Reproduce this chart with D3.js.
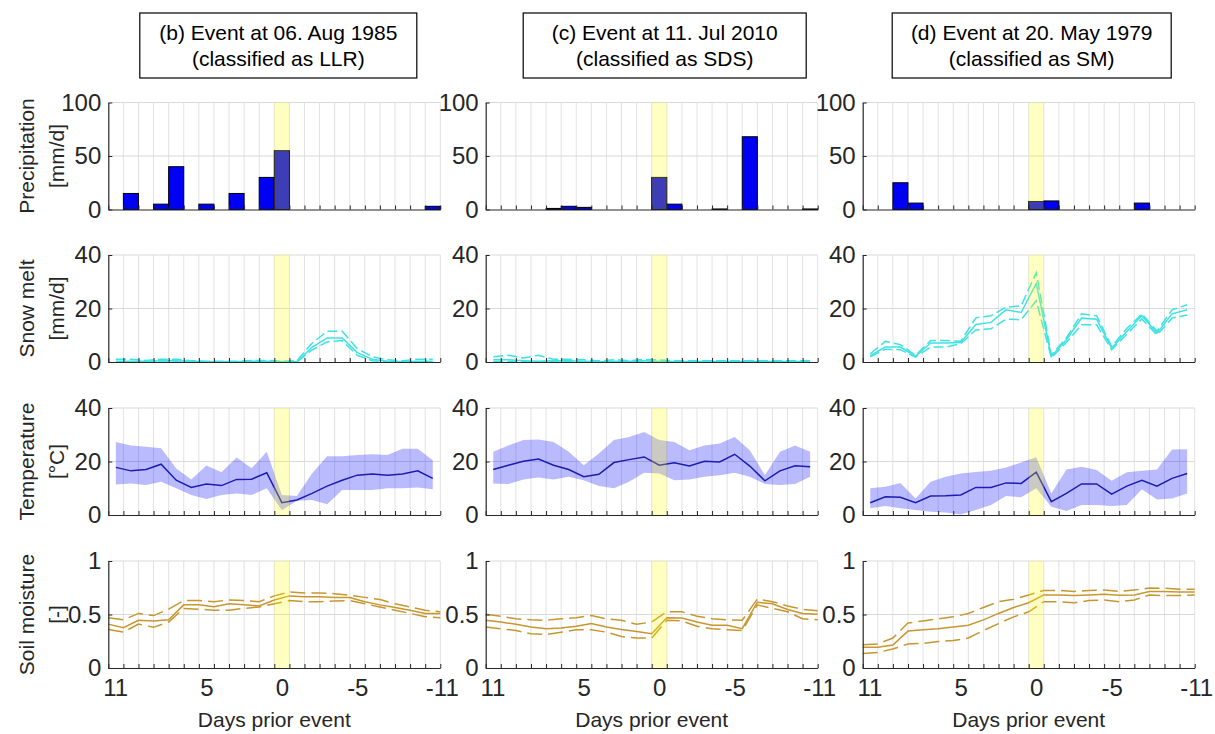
<!DOCTYPE html>
<html>
<head>
<meta charset="utf-8">
<script src="https://cdn.jsdelivr.net/npm/d3@7/dist/d3.min.js"></script>
<style>
  body { margin: 0; background: #fff; }
  svg { display: block; }
  text { font-family: "Liberation Sans", Arial, sans-serif; fill: #262626; }
</style>
</head>
<body>
<svg id="chart" width="1215" height="734"></svg>
<script>
// day centres (daily values) and day edges (soil moisture is stored at the edges)
const days = [11, 10, 9, 8, 7, 6, 5, 4, 3, 2, 1, 0, -1, -2, -3, -4, -5, -6, -7, -8, -9, -10]
const edges = [11.5, 10.5, 9.5, 8.5, 7.5, 6.5, 5.5, 4.5, 3.5, 2.5, 1.5, 0.5, -0.5, -1.5, -2.5, -3.5, -4.5, -5.5, -6.5, -7.5, -8.5, -9.5, -10.5]

const xTickPos = [11.05, 5, 0, -5, -10.6]
const xTickLabels = ['11', '5', '0', '-5', '-11']

const titleLine1 = ['(b) Event at 06. Aug 1985', '(c) Event at 11. Jul 2010', '(d) Event at 20. May 1979']
const titleLine2 = ['(classified as LLR)', '(classified as SDS)', '(classified as SM)']

// precipitation [mm/d]
const precip = [
  [0, 15, 0, 5, 40, 0, 5, 0, 15, 0, 30, 55, 0, 0, 0, 0, 0, 0, 0, 0, 0, 3],
  [0, 0, 0, 0, 1, 3, 2, 0, 0, 0, 0, 30, 5, 0, 0, 0.5, 0, 68, 0, 0, 0, 0.5],
  [0, 0, 25, 6, 0, 0, 0, 0, 0, 0, 0, 7.5, 8, 0, 0, 0, 0, 0, 6, 0, 0, 0]
]

// snow melt [mm/d]: median, upper and lower
const snowMid = [
  [0.3, 0.3, 0.3, 0.5, 0.5, 0.3, 0.1, 0.1, 0.1, 0.3, 0.3, 0.1, 0.1, 5.5, 9, 9, 3.5, 1, 0.3, 0.1, 0.3, 0.3],
  [0.8, 0.8, 0.5, 0.3, 0.5, 0.5, 0.3, 0.1, 0.3, 0.3, 0.5, 0.3, 0.2, 0.2, 0.2, 0.2, 0.2, 0.2, 0.2, 0.2, 0.2, 0.2],
  [2.4, 5.6, 5.6, 2.1, 7.1, 7.1, 7.3, 14, 14.8, 19.5, 18.5, 29.4, 2.1, 8.3, 16.4, 16, 5.2, 11.4, 17.3, 10.8, 18, 19.5]
]
const snowHigh = [
  [1, 1, 0.6, 1, 1, 0.5, 0.3, 0.3, 0.3, 0.6, 0.6, 0.3, 0.5, 7, 11.5, 11.5, 5, 2, 0.8, 0.5, 1, 1],
  [2, 2.5, 1.5, 2.5, 1, 1, 0.8, 0.5, 0.8, 0.5, 1, 0.8, 0.5, 0.5, 0.5, 0.5, 0.5, 0.5, 0.5, 0.5, 0.5, 0.5],
  [3.1, 7.7, 6.5, 2.5, 8, 8, 7.8, 16.5, 17.3, 20.5, 21, 33.4, 2.6, 9, 18, 17.3, 5.8, 12.5, 18, 11.5, 19.5, 21.4]
]
const snowLow = [
  [0, 0, 0, 0, 0, 0, 0, 0, 0, 0, 0, 0, 0, 4.5, 7.5, 8, 2.5, 0.5, 0, 0, 0, 0],
  [0.2, 0.2, 0.1, 0.1, 0.2, 0.2, 0.1, 0, 0.1, 0.1, 0.2, 0.1, 0, 0, 0, 0, 0, 0, 0, 0, 0, 0],
  [1.9, 4.8, 4.6, 1.8, 5.6, 5.6, 6.8, 12, 12.4, 16, 15.8, 22.9, 1.6, 7.4, 13.9, 13.9, 4.6, 10.4, 16.1, 10.1, 16.4, 17.6]
]

// temperature [°C]: mean with spread
const tempMid = [
  [17.8, 16.5, 17, 19, 13, 10.3, 11.6, 11, 13.3, 13.4, 15.8, 4.6, 5.6, 8.1, 10.8, 13, 14.9, 15.3, 14.9, 15.3, 16.5, 13.7],
  [17, 18.6, 20.1, 20.9, 18.6, 17, 14.3, 15.2, 19.6, 20.7, 21.7, 18.6, 19.5, 18.3, 20.1, 19.8, 22.7, 18.3, 12.8, 16.5, 18.4, 18],
  [4.6, 6.8, 6.6, 4.6, 7.1, 7.2, 7.5, 10.3, 10.3, 12, 11.8, 16, 5, 8.1, 11.6, 11.6, 7.8, 10.8, 13, 10.8, 13.7, 15.5]
]
const tempHigh = [
  [27.3, 26, 25.5, 25, 17.4, 13.3, 18.5, 16, 21.5, 17.5, 23.6, 7.5, 7.1, 15.5, 22, 22, 22.4, 22.7, 22.4, 24.8, 24.8, 20.5],
  [23.6, 26, 28, 28.2, 27.3, 23.6, 18.6, 23, 28, 29.2, 31, 28, 27.3, 24.2, 26, 26.7, 29.2, 24.2, 14.9, 23.6, 26, 23.6],
  [10, 10.6, 12, 6.2, 12.4, 14.3, 15.5, 16.1, 16.5, 17.8, 19.6, 21.6, 8, 17, 18, 16.8, 12.8, 16, 16.5, 17, 24.5, 24.6]
]
const tempLow = [
  [11.4, 11.8, 11.2, 12.4, 10, 7.5, 6, 7.5, 8, 7.5, 10, 1.8, 5.3, 5.6, 4, 9.3, 9.3, 9.3, 10, 10, 10.3, 9.6],
  [11.8, 11.6, 13.3, 14, 13.3, 14.3, 13, 10.8, 10, 12.4, 15.8, 15.5, 13, 13.3, 14.3, 14.9, 15.8, 14.3, 11.6, 11.2, 11.6, 14.3],
  [2.5, 3.4, 2.5, 1.9, 1.2, 0.9, 0.2, 1.9, 3.7, 7.1, 6.6, 10, 3.1, 1.5, 3.7, 3.7, 3.4, 3.7, 9.6, 5.8, 6.2, 8]
]

// soil moisture [-] at day edges: median, upper and lower
const soilMid = [
  [0.41, 0.377, 0.446, 0.44, 0.45, 0.59, 0.59, 0.573, 0.6, 0.59, 0.58, 0.636, 0.674, 0.667, 0.667, 0.66, 0.658, 0.62, 0.59, 0.566, 0.54, 0.51, 0.51],
  [0.446, 0.43, 0.408, 0.383, 0.367, 0.373, 0.39, 0.415, 0.383, 0.36, 0.342, 0.32, 0.47, 0.468, 0.43, 0.4, 0.4, 0.367, 0.615, 0.6, 0.547, 0.51, 0.503],
  [0.193, 0.193, 0.215, 0.345, 0.357, 0.367, 0.383, 0.4, 0.45, 0.51, 0.566, 0.61, 0.683, 0.683, 0.677, 0.683, 0.69, 0.68, 0.683, 0.715, 0.715, 0.71, 0.71]
]
const soilHigh = [
  [0.47, 0.45, 0.51, 0.49, 0.55, 0.63, 0.63, 0.62, 0.636, 0.63, 0.62, 0.674, 0.71, 0.7, 0.7, 0.695, 0.68, 0.66, 0.64, 0.6, 0.57, 0.54, 0.525],
  [0.503, 0.484, 0.46, 0.45, 0.446, 0.46, 0.47, 0.49, 0.46, 0.446, 0.408, 0.43, 0.525, 0.525, 0.484, 0.46, 0.45, 0.446, 0.645, 0.62, 0.58, 0.547, 0.535],
  [0.218, 0.225, 0.28, 0.42, 0.44, 0.46, 0.478, 0.51, 0.566, 0.62, 0.642, 0.683, 0.725, 0.725, 0.715, 0.725, 0.73, 0.715, 0.73, 0.747, 0.745, 0.737, 0.737]
]
const soilLow = [
  [0.36, 0.335, 0.41, 0.38, 0.43, 0.557, 0.55, 0.54, 0.54, 0.557, 0.57, 0.6, 0.63, 0.62, 0.62, 0.626, 0.63, 0.6, 0.57, 0.54, 0.51, 0.48, 0.47],
  [0.383, 0.367, 0.35, 0.32, 0.313, 0.335, 0.357, 0.357, 0.335, 0.294, 0.28, 0.28, 0.446, 0.44, 0.39, 0.367, 0.357, 0.35, 0.59, 0.557, 0.525, 0.46, 0.45],
  [0.136, 0.146, 0.177, 0.225, 0.23, 0.247, 0.256, 0.28, 0.35, 0.415, 0.478, 0.525, 0.62, 0.62, 0.61, 0.63, 0.636, 0.62, 0.636, 0.683, 0.677, 0.677, 0.683]
]

const panels = [
  { key: 'precip', max: 100, ticks: [0, 50, 100], label: ['Precipitation', '[mm/d]'] },
  { key: 'snow', max: 40, ticks: [0, 20, 40], label: ['Snow melt', '[mm/d]'] },
  { key: 'temp', max: 40, ticks: [0, 20, 40], label: ['Temperature', '[°C]'] },
  { key: 'soil', max: 1, ticks: [0, 0.5, 1], label: ['Soil moisture', '[-]'] }
]

// layout
const colLeft = [108.3, 485.7, 862.7]
const plotW = 332
const rowTop = [102.5, 255, 408, 561]
const plotH = 107
const titleDx = [4, 13, 3]
const titleW = [277, 283, 279]

const svg = d3.select('#chart')

const drawers = {
  precip(g, x, y, ci) {
    const bw = x(-0.5) - x(0.5)
    g.selectAll('rect.bar')
      .data(days.map((d, i) => ({ d, v: precip[ci][i] })).filter(e => e.v > 0))
      .enter()
      .append('rect')
        .attr('class', 'bar')
        .attr('x', e => x(e.d + 0.5))
        .attr('width', bw)
        .attr('y', e => y(e.v))
        .attr('height', e => y(0) - y(e.v))
        .attr('fill', '#0000f2')
        .attr('stroke', '#000')
        .attr('stroke-width', 1)
  },
  snow(g, x, y, ci) {
    const line = d3.line().x((d, i) => x(days[i])).y(d => y(d))
    const series = [[snowHigh[ci], '10,4'], [snowLow[ci], '10,4'], [snowMid[ci], null]]
    series.forEach(([vals, dash]) => {
      g.append('path')
        .attr('d', line(vals))
        .attr('fill', 'none')
        .attr('stroke', '#3ee2e2')
        .attr('stroke-width', 1.5)
        .attr('stroke-dasharray', dash)
    })
  },
  temp(g, x, y, ci) {
    const area = d3.area()
      .x((d, i) => x(days[i]))
      .y0((d, i) => y(tempLow[ci][i]))
      .y1(d => y(d))
    g.append('path')
      .attr('d', area(tempHigh[ci]))
      .attr('fill', '#0000ff')
      .attr('fill-opacity', 0.27)
    g.append('path')
      .attr('d', d3.line().x((d, i) => x(days[i])).y(d => y(d))(tempMid[ci]))
      .attr('fill', 'none')
      .attr('stroke', '#1c1cb0')
      .attr('stroke-width', 1.5)
  },
  soil(g, x, y, ci) {
    const line = d3.line().x((d, i) => x(edges[i])).y(d => y(d))
    const series = [[soilHigh[ci], '15,6'], [soilLow[ci], '15,6'], [soilMid[ci], null]]
    series.forEach(([vals, dash]) => {
      g.append('path')
        .attr('d', line(vals))
        .attr('fill', 'none')
        .attr('stroke', '#c8962f')
        .attr('stroke-width', 1.5)
        .attr('stroke-dasharray', dash)
    })
  }
}

titleLine1.forEach((t, ci) => {
  const cx = colLeft[ci] + plotW / 2 + titleDx[ci]
  const tg = svg.append('g')
  tg.append('rect')
    .attr('x', cx - titleW[ci] / 2)
    .attr('y', 13)
    .attr('width', titleW[ci])
    .attr('height', 65)
    .attr('fill', '#fff')
    .attr('stroke', '#000')
    .attr('stroke-width', 1.2)
  tg.append('text')
    .attr('x', cx).attr('y', 40)
    .attr('text-anchor', 'middle')
    .style('font-size', '21px')
    .style('fill', '#000')
    .text(t)
  tg.append('text')
    .attr('x', cx).attr('y', 66)
    .attr('text-anchor', 'middle')
    .style('font-size', '21px')
    .style('fill', '#000')
    .text(titleLine2[ci])
})

colLeft.forEach((left, ci) => {
  const x = d3.scaleLinear().domain([11.5, -10.5]).range([left, left + plotW])

  panels.forEach((p, ri) => {
    const y = d3.scaleLinear().domain([0, p.max]).range([rowTop[ri] + plotH, rowTop[ri]])
    const g = svg.append('g')

    // grid
    g.selectAll('line.vgrid')
      .data(edges.slice(1))
      .enter()
      .append('line')
        .attr('x1', d => x(d)).attr('x2', d => x(d))
        .attr('y1', y(0)).attr('y2', y(p.max))
        .attr('stroke', '#e2e2e2')
    g.selectAll('line.hgrid')
      .data(p.ticks.slice(1))
      .enter()
      .append('line')
        .attr('x1', x(11.5)).attr('x2', x(-10.5))
        .attr('y1', d => y(d)).attr('y2', d => y(d))
        .attr('stroke', '#dadada')

    drawers[p.key](g, x, y, ci)

    // event day highlight, drawn over the data
    g.append('rect')
      .attr('x', x(0.5))
      .attr('width', x(-0.5) - x(0.5))
      .attr('y', y(p.max))
      .attr('height', y(0) - y(p.max))
      .attr('fill', '#ffff00')
      .attr('fill-opacity', 0.24)

    // axes
    const yAxis = g.append('g')
      .attr('transform', `translate(${left},0)`)
      .call(d3.axisLeft(y).tickValues(p.ticks).tickSizeInner(-4).tickSizeOuter(0).tickPadding(7)
        .tickFormat(d3.format('~g')))
    yAxis.select('.domain').attr('stroke', '#262626').attr('stroke-width', 1.2)
    yAxis.selectAll('.tick line').attr('stroke', '#262626')
    yAxis.selectAll('text').style('font-size', '24px').attr('fill', null)

    const xAxis = g.append('g')
      .attr('transform', `translate(0,${y(0)})`)
      .call(d3.axisBottom(x).tickValues(edges).tickSizeInner(-4).tickSizeOuter(0).tickFormat(''))
    xAxis.select('.domain').attr('stroke', '#262626').attr('stroke-width', 1.2)
    xAxis.selectAll('.tick line').attr('stroke', '#262626')

    if (ri === panels.length - 1) {
      const lab = g.append('g')
        .attr('transform', `translate(0,${y(0)})`)
        .call(d3.axisBottom(x).tickValues(xTickPos).tickSize(0).tickPadding(11)
          .tickFormat((d, i) => xTickLabels[i]))
      lab.select('.domain').remove()
      lab.selectAll('text').style('font-size', '24px').attr('fill', null)
      g.append('text')
        .attr('x', left + plotW / 2)
        .attr('y', 727)
        .attr('text-anchor', 'middle')
        .style('font-size', '21px')
        .text('Days prior event')
    }

    if (ci === 0) {
      const cy = rowTop[ri] + plotH / 2
      p.label.forEach((t, li) => {
        g.append('text')
          .attr('transform', `translate(${li === 0 ? 34 : 63.5},${cy}) rotate(-90)`)
          .attr('text-anchor', 'middle')
          .style('font-size', '21px')
          .text(t)
      })
    }
  })
})
</script>
</body>
</html>
